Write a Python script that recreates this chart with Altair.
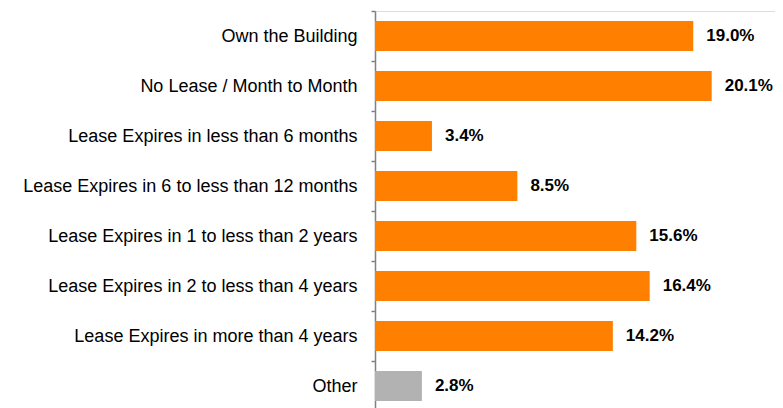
import altair as alt
import pandas as pd

categories = [
    "Own the Building",
    "No Lease / Month to Month",
    "Lease Expires in less than 6 months",
    "Lease Expires in 6 to less than 12 months",
    "Lease Expires in 1 to less than 2 years",
    "Lease Expires in 2 to less than 4 years",
    "Lease Expires in more than 4 years",
    "Other",
]
values = [19.0, 20.1, 3.4, 8.5, 15.6, 16.4, 14.2, 2.8]
colors = ["#FF7F00"] * 7 + ["#B2B2B2"]

df = pd.DataFrame({
    "category": categories,
    "value": values,
    "color": colors,
    "label": [f"{v:.1f}%" for v in values],
})

FONT = "Liberation Sans"

y = alt.Y(
    "category:N",
    sort=categories,
    scale=alt.Scale(paddingInner=0.4, paddingOuter=0.2),
    axis=alt.Axis(
        title=None,
        domainColor="#808080",
        domainWidth=1.5,
        tickColor="#808080",
        tickWidth=1.5,
        tickSize=4,
        tickOffset=-25,
        labelOffset=25,
        labelPadding=14,
        labelFont=FONT,
        labelFontSize=18,
        labelColor="#000000",
        labelLimit=500,
    ),
)
x = alt.X(
    "value:Q",
    scale=alt.Scale(domain=[0, 23.88], nice=False),
    axis=None,
)

bars = alt.Chart(df).mark_bar().encode(
    x=x, y=y, color=alt.Color("color:N", scale=None)
)
text = alt.Chart(df).mark_text(
    align="left", baseline="middle", dx=13, font=FONT, fontSize=17,
    fontWeight="bold", color="#000000"
).encode(x=x, y=y, text="label:N")

chart = (bars + text).properties(
    width=400, height=400,
    autosize=alt.AutoSizeParams(type="none"),
    padding={"left": 367, "top": 3, "right": 0, "bottom": 0},
).configure_view(stroke=None).configure(background="#FFFFFF")

chart.save("out.html", embed_options={"renderer": "svg", "actions": False})
